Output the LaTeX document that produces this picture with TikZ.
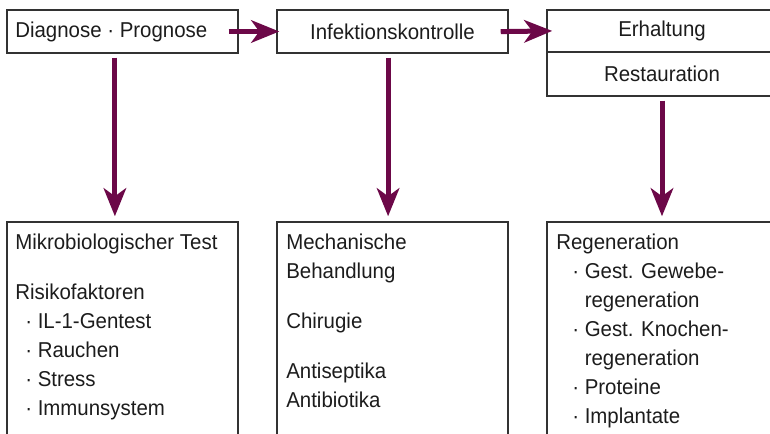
\documentclass[tikz,border=0pt]{standalone}
\usepackage{fontspec}
\setmainfont{Liberation Sans}[FakeStretch=0.95]
\usepackage{tikz}
\usetikzlibrary{arrows.meta}
\definecolor{pflaume}{RGB}{108,8,72}
\definecolor{rahmen}{RGB}{50,50,50}
\definecolor{schrift}{RGB}{28,28,28}
\def\punkt{\hspace{0.25cm}· }
\def\punktb{\hspace{0.4cm}· }
\def\weiter{\hspace{0.4cm}\phantom{· }}
\tikzset{
  kasten/.style={draw=rahmen, line width=1pt, rectangle, inner sep=0pt},
  liste/.style={anchor=north west, inner sep=0pt, align=left, text=schrift},
  pfeil/.style={draw=pflaume, line width=0.125cm, -{Stealth[length=0.7cm, width=0.56cm, inset=0.2cm]}}
}

\begin{document}
\begin{tikzpicture}[x=0.025cm, y=-0.025cm, font=\fontsize{15.3}{20.6}\selectfont, text=schrift]
			%%%%% START %%%%%
			\useasboundingbox (0, 0) rectangle (770, 434);
			\clip (0, 0) rectangle (770, 434);
			
			% obere Reihe
			\node[kasten, minimum width=5.775cm, minimum height=1.075cm] (diag) at (122.5, 31.5) {};
			\node[anchor=west, inner sep=0pt] (diagtext) at (15, 31.5) {Diagnose · Prognose};
			\node[kasten, minimum width=5.775cm, minimum height=1.075cm] (infekt) at (392.5, 31.5) {Infektionskontrolle};
			\node[kasten, minimum width=5.75cm, minimum height=1.05cm] (erhalt) at (662, 31) {Erhaltung};
			\node[kasten, minimum width=5.75cm, minimum height=1.1cm] (restaur) at (662, 74) {Restauration};
			
			% untere Reihe
			\node[kasten, minimum width=5.775cm, minimum height=5.5cm] (mikro) at (122.5, 332) {};
			\node[kasten, minimum width=5.775cm, minimum height=5.5cm] (mech) at (392.5, 332) {};
			\node[kasten, minimum width=5.75cm, minimum height=5.5cm] (regen) at (662, 332) {};
			
			\node[liste] (mikrotext) at (15, 234) {Mikrobiologischer Test\\[0.525cm]
				Risikofaktoren\\
				\punkt IL-1-Gentest\\
				\punkt Rauchen\\
				\punkt Stress\\
				\punkt Immunsystem};
			\node[liste] (mechtext) at (286, 234) {Mechanische\\
				Behandlung\\[0.525cm]
				Chirugie\\[0.525cm]
				Antiseptika\\
				Antibiotika};
			\node[liste] (regentext) at (556, 234) {Regeneration\\
				\punktb Gest. Gewebe-\\
				\weiter regeneration\\
				\punktb Gest. Knochen-\\
				\weiter regeneration\\
				\punktb Proteine\\
				\punktb Implantate};
			
			% Pfeile
			\draw[pfeil, shorten <=-0.25cm, shorten >=-0.075cm] (diag.east) -- (infekt.west);
			\draw[pfeil, shorten <=-0.2cm, shorten >=-0.15cm] (infekt.east) -- (erhalt.west);
			\draw[pfeil, shorten <=0.1cm, shorten >=0.125cm] ([xshift=-0.19cm]diag.south) -- ([xshift=-0.19cm]mikro.north);
			\draw[pfeil, shorten <=0.1cm, shorten >=0.125cm] ([xshift=-0.11cm]infekt.south) -- ([xshift=-0.11cm]mech.north);
			\draw[pfeil, shorten <=0.1cm, shorten >=0.125cm] (restaur.south) -- (regen.north);
			
			%%%%% END %%%%%
\end{tikzpicture}
\end{document}
